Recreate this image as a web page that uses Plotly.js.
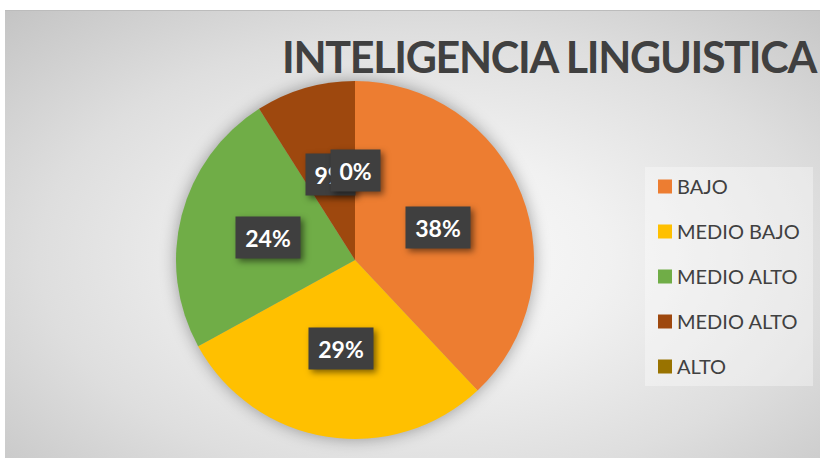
<!DOCTYPE html>
<html><head><meta charset="utf-8">
<script src="https://cdn.plot.ly/plotly-3.0.1.min.js"></script>
<style>
html,body{margin:0;padding:0;background:#fff;}
#wrap{position:relative;width:820px;height:458px;overflow:hidden;background:#fff;}
#bg{position:absolute;left:5px;top:10px;right:0;bottom:0;
 background:radial-gradient(ellipse farthest-corner at 52% 55%, #fafafa 0%, #f1f1f1 30%, #dedede 65%, #c4c4c4 100%);
 border-top:1px solid #bcbcbc;}
#chart{position:absolute;left:0;top:0;width:820px;height:458px;}
.pielayer .trace{filter:drop-shadow(0 0 8px rgba(0,0,0,0.35));}
.annotation rect.bg{filter:drop-shadow(3px 3px 3px rgba(0,0,0,0.5));}
.gtitle{letter-spacing:-1.3px;}
.legend .legendtext{transform:translateX(-8px);}
</style></head><body>
<div id="wrap"><div id="bg"></div><div id="chart"></div></div>
<script>
const categories = ['BAJO', 'MEDIO BAJO', 'MEDIO ALTO', 'MEDIO ALTO', 'ALTO'];
const percents = [38, 29, 24, 9, 0];
const colors = ['#ED7D31', '#FFC000', '#70AD47', '#9E480E', '#997300'];
const titleText = 'INTELIGENCIA LINGUISTICA';

const W = 820, H = 458;
const CX = 355, CY = 260, R = 179;
const domX = [(CX - R) / W, (CX + R) / W];
const domY = [(H - CY - R) / H, (H - CY + R) / H];

const pie = {
  type: 'pie',
  labels: categories.map((c, i) => i + ' ' + c),
  values: percents,
  marker: {colors: colors, line: {width: 0}},
  sort: false,
  direction: 'clockwise',
  rotation: 0,
  textinfo: 'none',
  textposition: 'none',
  hoverinfo: 'skip',
  showlegend: false,
  domain: {x: domX, y: domY}
};

const legendTraces = categories.map((c, i) => ({
  type: 'scatter', mode: 'markers', x: [null], y: [null],
  name: c, legendgroup: 'g' + i, showlegend: true,
  marker: {symbol: 'square', size: 14, color: colors[i]},
  hoverinfo: 'skip'
}));

const total = percents.reduce((a, b) => a + b, 0);
let cum = 0;
const annotations = percents.map((v, i) => {
  const mid = (cum + v / 2) / total * 2 * Math.PI;
  cum += v;
  const px = CX + 0.5 * R * Math.sin(mid);
  const py = CY - 0.5 * R * Math.cos(mid);
  const t = v + '%';
  return {
    xref: 'paper', yref: 'paper', x: px / W, y: 1 - py / H,
    xanchor: 'center', yanchor: 'middle', showarrow: false,
    text: t, width: 15 * t.length + 5, height: 27,
    bgcolor: '#3f3f3f', borderpad: 7,
    font: {family: 'Lato', size: 23, weight: 700, color: '#ffffff'}
  };
});

const layout = {
  width: W, height: H,
  margin: {l: 0, r: 0, t: 0, b: 0},
  paper_bgcolor: 'rgba(0,0,0,0)',
  plot_bgcolor: 'rgba(0,0,0,0)',
  title: {text: titleText, xref: 'paper', yref: 'paper', x: 282 / W, xanchor: 'left',
          y: 1 - 58 / H, yanchor: 'middle',
          font: {family: 'Lato', size: 43, weight: 700, color: '#404040'}},
  xaxis: {visible: false}, yaxis: {visible: false},
  hovermode: false,
  legend: {x: 645 / W, y: 1 - 167 / H, xanchor: 'left', yanchor: 'top',
           bgcolor: 'rgba(255,255,255,0.35)', tracegroupgap: 16, itemsizing: 'trace',
           font: {family: 'Lato', size: 20, color: '#404040'}},
  annotations: annotations
};

Plotly.newPlot('chart', [pie].concat(legendTraces), layout, {displayModeBar: false, staticPlot: true});
</script>
</body></html>
